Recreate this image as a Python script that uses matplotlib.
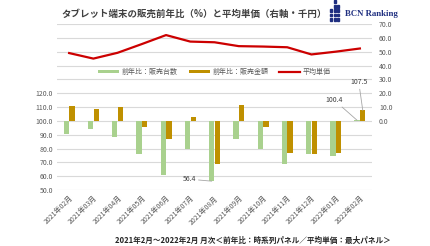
import matplotlib
matplotlib.use("Agg")
import matplotlib.pyplot as plt
import numpy as np

plt.rcParams['font.family'] = ['Noto Sans CJK JP', 'DejaVu Sans']

months = ["2021年02月", "2021年03月", "2021年04月", "2021年05月", "2021年06月",
          "2021年07月", "2021年08月", "2021年09月", "2021年10月", "2021年11月",
          "2021年12月", "2022年01月", "2022年02月"]
units_yoy = [90.3, 93.9, 88.5, 75.7, 60.6, 79.6, 56.4, 86.6, 80.0, 68.8, 75.9, 74.7, 100.4]
sales_yoy = [110.9, 108.8, 109.7, 95.8, 87.1, 102.7, 68.8, 111.7, 95.4, 76.6, 75.7, 77.1, 107.5]
avg_price = [49.0, 45.0, 49.2, 55.5, 62.0, 57.3, 56.8, 54.0, 53.7, 53.2, 48.0, 50.0, 52.3]

green = '#a9d18e'
gold = '#bf9000'
red = '#cc0000'
grid_c = '#d9d9d9'
txt_c = '#595959'

fig = plt.figure(figsize=(4.3, 2.46), dpi=100)
ax = fig.add_axes([0.1326, 0.2276, 0.7325, 0.6748])
ax2 = ax.twinx()

x = np.arange(len(months))
w = 0.22
base = 100
ax.bar(x - 0.115, np.array(units_yoy) - base, w, bottom=base, color=green, label='前年比：販売台数', zorder=3)
ax.bar(x + 0.12, np.array(sales_yoy) - base, w, bottom=base, color=gold, label='前年比：販売金額', zorder=3)
ln, = ax2.plot(x, avg_price, color=red, lw=1.6, label='平均単価', zorder=4)

ax.set_xlim(-0.5, len(months) - 0.5)
ax.set_ylim(50, 170)
ax2.set_ylim(-50, 70)

ax.set_yticks(np.arange(50, 171, 10))
ax.set_yticklabels([f"{v:.1f}" if v <= 120 else "" for v in np.arange(50, 171, 10)])
ax2.set_yticks(np.arange(0, 71, 10))
ax2.set_yticklabels([f"{v:.1f}" for v in np.arange(0, 71, 10)])
ax.grid(axis='y', color=grid_c, lw=0.8, zorder=0)
ax.set_axisbelow(True)

ax.set_xticks(x)
ax.set_xticklabels(months, rotation=45, ha='right', rotation_mode='anchor', fontsize=5, color=txt_c)
for a in (ax, ax2):
    a.tick_params(length=0, labelsize=5, colors=txt_c)
    for s in a.spines.values():
        s.set_visible(False)
ax.tick_params(axis='y', pad=3)
ax2.tick_params(axis='y', pad=5)
ax.tick_params(axis='x', pad=3)

h1, l1 = ax.get_legend_handles_labels()
leg = ax.legend(h1 + [ln], l1 + ['平均単価'], loc='center', bbox_to_anchor=(0.5, 0.71),
                ncol=3, frameon=False, fontsize=5, handlelength=3, handleheight=0.4,
                columnspacing=1.6, handletextpad=0.4, labelcolor=txt_c)

ann = dict(arrowstyle='-', color='#a6a6a6', lw=0.6, shrinkA=0, shrinkB=0)
ax.annotate(f"{units_yoy[6]:.1f}", xy=(6 - 0.115, units_yoy[6]), xytext=(-16, 2),
            textcoords='offset pixels', ha='right', va='center', fontsize=5, color='#404040', arrowprops=ann)
ax.annotate(f"{units_yoy[12]:.1f}", xy=(12 - 0.115, units_yoy[12]), xytext=(-14, 20),
            textcoords='offset pixels', ha='right', va='center', fontsize=5, color='#404040', arrowprops=ann)
ax.annotate(f"{sales_yoy[12]:.1f}", xy=(12 + 0.12, sales_yoy[12]), xytext=(-4, 24),
            textcoords='offset pixels', ha='center', va='bottom', fontsize=5, color='#404040', arrowprops=ann)

fig.text(0.144, 0.943, "タブレット端末の販売前年比（%）と平均単価（右軸・千円）",
         fontsize=6.8, fontweight='bold', color='#404040', va='center', ha='left')

# logo
for i, n in enumerate([3, 5, 4]):
    for j in range(n):
        fig.patches.append(plt.Rectangle((0.768 + i * 0.008, 0.915 + j * 0.018), 0.005, 0.011,
                                         transform=fig.transFigure, color='#1f2f80'))
fig.text(0.802, 0.943, "BCN Ranking", fontsize=6.3, fontweight='bold', family='Liberation Serif',
         color='#1f2f80', va='center', ha='left')

fig.text(0.587, 0.025, "2021年2月～2022年2月 月次＜前年比：時系列パネル／平均単価：最大パネル＞",
         fontsize=5.5, fontweight='bold', color='#262626', ha='center', va='center')

fig.savefig('out.png', dpi=100)
